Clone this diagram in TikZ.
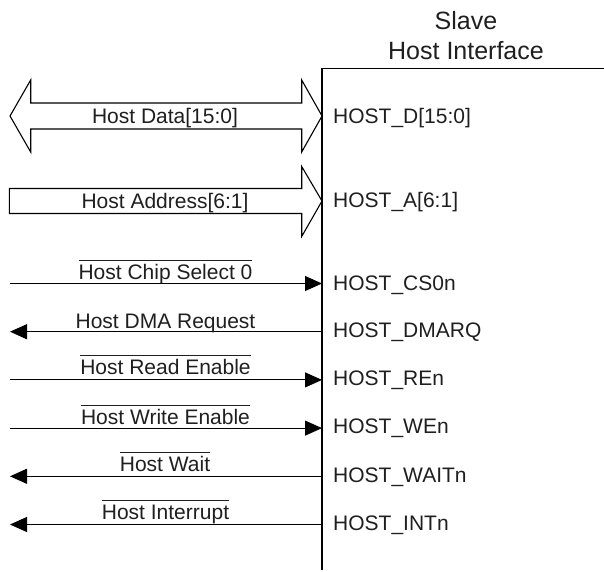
\documentclass[tikz,border=0pt]{standalone}
\usepackage{fontspec}
\setmainfont{Liberation Sans}
\usetikzlibrary{arrows.meta}

% text with a bar over it (active-low signal names)
\newsavebox\ovbox
\newcommand\ovtext[1]{\sbox\ovbox{#1}\rlap{\raisebox{18.5pt}{\rule{\wd\ovbox}{1pt}}}\usebox\ovbox}

\tikzset{
  wire/.style={line width=1.1pt, black},
  sigin/.style={wire, -{Triangle[length=17pt,width=15pt]}},
  sigout/.style={wire, -{Triangle[length=17pt,width=15pt]}},
  bus/.style={line width=1.1pt, black, fill=white, line join=miter},
  lbl/.style={inner sep=0pt, text=black!88, font=\fontsize{21}{25}\selectfont, anchor=base},
  pin/.style={lbl, anchor=base west},
  title/.style={inner sep=0pt, text=black!88, font=\fontsize{25}{30}\selectfont, anchor=base},
}

\begin{document}
\begin{tikzpicture}[x=1pt, y=-1pt]
  \useasboundingbox (0,0) rectangle (604,571);

  % block title and outline
  \node[title] (t1) at (466,29) {Slave};
  \node[title] (t2) at (466,59) {Host Interface};
  \draw[wire] (604,68.3) -| (322,570);

  % bidirectional data bus
  \draw[bus] (10,116) -- (30.7,80) -- (30.7,103) -- (301.7,103) -- (301.7,80)
    -- (322,116) -- (301.7,152) -- (301.7,129) -- (30.7,129) -- (30.7,152) -- cycle;
  \node[lbl] (ldata) at (165,123.3) {Host Data[15:0]};
  \node[pin] (pdata) at (333,123.7) {HOST\_D[15:0]};

  % address bus into the block
  \draw[bus] (9.3,188.5) -- (301.7,188.5) -- (301.7,166.5) -- (322,201)
    -- (301.7,236.5) -- (301.7,213.5) -- (9.3,213.5) -- cycle;
  \node[lbl] (laddr) at (165,208.7) {Host Address[6:1]};
  \node[pin] (paddr) at (333,207.7) {HOST\_A[6:1]};

  % single control lines: free ends on the left, pins on the block edge
  \coordinate (ecs)   at (10,283.5);  \coordinate (pcs)   at (322,283.5);
  \coordinate (edma)  at (10,331.7);  \coordinate (pdma)  at (322,331.7);
  \coordinate (ere)   at (10,379.9);  \coordinate (pre)   at (322,379.9);
  \coordinate (ewe)   at (10,428.1);  \coordinate (pwe)   at (322,428.1);
  \coordinate (ewait) at (10,476.3);  \coordinate (pwait) at (322,476.3);
  \coordinate (eint)  at (10,524.5);  \coordinate (pint)  at (322,524.5);

  \draw[sigin]  (ecs)   -- (pcs);
  \draw[sigout] (pdma)  -- (edma);
  \draw[sigin]  (ere)   -- (pre);
  \draw[sigin]  (ewe)   -- (pwe);
  \draw[sigout] (pwait) -- (ewait);
  \draw[sigout] (pint)  -- (eint);

  \node[lbl] (lcs)   at (165.5,279.0) {\ovtext{Host Chip Select 0}};
  \node[lbl] (ldma)  at (165.5,328.0) {Host DMA Request};
  \node[lbl] (lre)   at (165.5,374.5) {\ovtext{Host Read Enable}};
  \node[lbl] (lwe)   at (165.5,424.0) {\ovtext{Host Write Enable}};
  \node[lbl] (lwait) at (165.0,471.5) {\ovtext{Host Wait}};
  \node[lbl] (lint)  at (165.5,519.8) {\ovtext{Host Interrupt}};

  \node[pin] (ncs)   at (333,290.8) {HOST\_CS0n};
  \node[pin] (ndma)  at (333,337.7) {HOST\_DMARQ};
  \node[pin] (nre)   at (333,385.7) {HOST\_REn};
  \node[pin] (nwe)   at (333,433.7) {HOST\_WEn};
  \node[pin] (nwait) at (333,482.7) {HOST\_WAITn};
  \node[pin] (nint)  at (333,530.7) {HOST\_INTn};
\end{tikzpicture}
\end{document}
